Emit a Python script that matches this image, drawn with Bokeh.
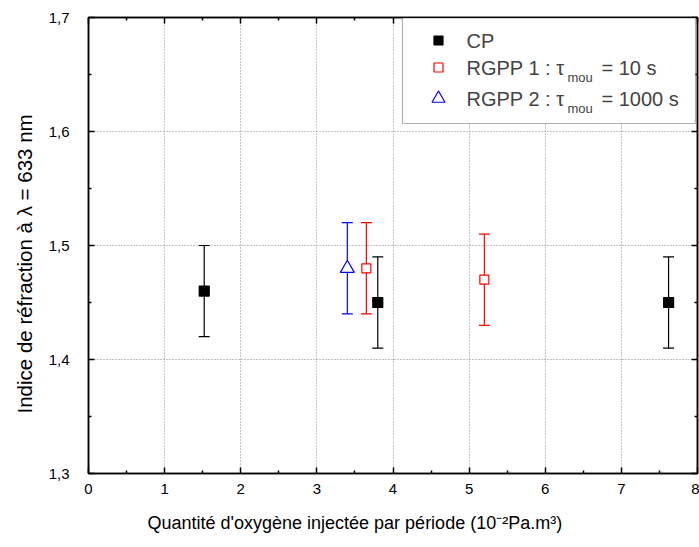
from bokeh.plotting import figure
from bokeh.models import (ColumnDataSource, Whisker, TeeHead, LinearAxis, FixedTicker,
                          CustomJSTickFormatter, BoxAnnotation, Label, Range1d, Title)
from bokeh.embed import file_html
from bokeh.resources import INLINE

# ---- data ----
cp_x = [1.52, 3.80, 7.62]
cp_y = [1.46, 1.45, 1.45]
cp_err = [0.04, 0.04, 0.04]

rg1_x = [3.65, 5.20]
rg1_y = [1.48, 1.47]
rg1_err = [0.04, 0.04]

rg2_x = [3.40]
rg2_y = [1.48]
rg2_err = [0.04]

x_ticks = [0, 1, 2, 3, 4, 5, 6, 7, 8]
y_ticks = [1.3, 1.4, 1.5, 1.6, 1.7]

x_title = "Quantité d'oxygène injectée par période (10\u207b\u00b2Pa.m\u00b3)"
y_title = "Indice de réfraction à λ = 633 nm"

FONT = "Liberation Sans"

p = figure(width=699, height=547, output_backend="svg", toolbar_location=None,
           x_range=Range1d(0, 8), y_range=Range1d(1.3, 1.7),
           min_border_left=88, min_border_right=2, min_border_top=17, min_border_bottom=74)
p.background_fill_color = "white"
p.border_fill_color = "white"
p.outline_line_color = "black"
p.outline_line_width = 1.5

fmt = CustomJSTickFormatter(code="return (Math.round(tick*10)/10).toFixed(1).replace('.', ',');")
blank = CustomJSTickFormatter(code="return '';")

xa = p.xaxis[0]
xa.ticker = FixedTicker(ticks=x_ticks, minor_ticks=[t + 0.5 for t in x_ticks[:-1]])
ya = p.yaxis[0]
ya.ticker = FixedTicker(ticks=y_ticks, minor_ticks=[1.35, 1.45, 1.55, 1.65])
ya.formatter = fmt

for ax in (xa, ya):
    ax.major_tick_in = 6
    ax.major_tick_out = 0
    ax.minor_tick_in = 3
    ax.minor_tick_out = 0
    ax.axis_line_width = 1.5
    ax.major_tick_line_width = 1.5
    ax.minor_tick_line_width = 1.5
    ax.major_label_text_font = FONT
    ax.major_label_text_font_size = "15px"
    ax.major_label_text_color = "black"
xa.major_label_standoff = 10
ya.major_label_standoff = 19

# mirror axes (ticks only)
for loc, tk in (("right", ya.ticker), ("above", xa.ticker)):
    ax = LinearAxis(ticker=tk, formatter=blank)
    ax.major_label_standoff = 0
    ax.major_tick_in = 6
    ax.major_tick_out = 0
    ax.minor_tick_in = 3
    ax.minor_tick_out = 0
    ax.axis_line_width = 1.5
    ax.major_tick_line_width = 1.5
    ax.minor_tick_line_width = 1.5
    p.add_layout(ax, loc)

# axis titles (as titles so they can be offset like the reference)
p.add_layout(Title(text=x_title, align="left", offset=59, standoff=29, text_font=FONT,
                   text_font_size="18px", text_font_style="normal", text_color="black"),
             "below")
p.add_layout(Title(text=y_title, align="left", offset=60, standoff=19, text_font=FONT,
                   text_font_size="20.5px", text_font_style="normal", text_color="black"),
             "left")

# grid
for g in (p.xgrid[0], p.ygrid[0]):
    g.grid_line_color = "#888888"
    g.grid_line_dash = "1 2"
    g.grid_line_width = 1

# pixel -> data helpers for legend placement
PXX = 609 / 8.0
PXY = 456 / 0.4
def dx(pix):
    return (pix - 88) / PXX
def dy(pix):
    return 1.7 - (pix - 17) / PXY

# series
def add_series(xs, ys, errs, color, marker, size, fill):
    src = ColumnDataSource(dict(x=xs, y=ys,
                                lo=[a - b for a, b in zip(ys, errs)],
                                hi=[a + b for a, b in zip(ys, errs)]))
    w = Whisker(base="x", lower="lo", upper="hi", source=src, dimension="height",
                line_color=color, line_width=1.2,
                upper_head=TeeHead(size=11, line_color=color, line_width=1.2),
                lower_head=TeeHead(size=11, line_color=color, line_width=1.2))
    p.add_layout(w)
    p.scatter("x", "y", source=src, marker=marker, size=size, line_color=color,
              fill_color=fill, line_width=1.2)

add_series(cp_x, cp_y, cp_err, "black", "square", 10, "black")
add_series(rg1_x, rg1_y, rg1_err, "red", "square", 9, "white")
add_series(rg2_x, rg2_y, rg2_err, "blue", "triangle", 14, "white")

# legend (manual, for subscripts)
p.add_layout(BoxAnnotation(left=dx(402), right=dx(695), top=dy(17.5), bottom=dy(123),
                           fill_color="white", fill_alpha=1, line_color="black",
                           line_width=1.2, level="annotation"))

leg_rows = [("CP", None, None, "black", "square", 9, "black", 40),
            ("RGPP 1 : τ", "mou", "= 10 s", "red", "square", 9, "white", 67),
            ("RGPP 2 : τ", "mou", "= 1000 s", "blue", "triangle", 13, "white", 98)]
lx, ly, lc, lm, ls, lf = [], [], [], [], [], []
for name, sub, tail, color, marker, size, fill, rowpix in leg_rows:
    lx.append(dx(438)); ly.append(dy(rowpix)); lc.append(color); lm.append(marker)
    ls.append(size); lf.append(fill)
    p.add_layout(Label(x=dx(466), y=dy(rowpix), text=name, text_font=FONT,
                       text_font_size="20px", text_baseline="middle", level="overlay"))
    if sub:
        p.add_layout(Label(x=dx(567), y=dy(rowpix + 10), text=sub, text_font=FONT,
                           text_font_size="13px", text_baseline="middle", level="overlay"))
        p.add_layout(Label(x=dx(601), y=dy(rowpix), text=tail, text_font=FONT,
                           text_font_size="20px", text_baseline="middle", level="overlay"))
lsrc = ColumnDataSource(dict(x=lx, y=ly, c=lc, m=lm, s=ls, f=lf))
lr = p.scatter("x", "y", source=lsrc, marker="m", size="s", line_color="c",
               fill_color="f", line_width=1.2)
lr.level = "overlay"

open("out.html", "w").write(file_html(p, INLINE))
